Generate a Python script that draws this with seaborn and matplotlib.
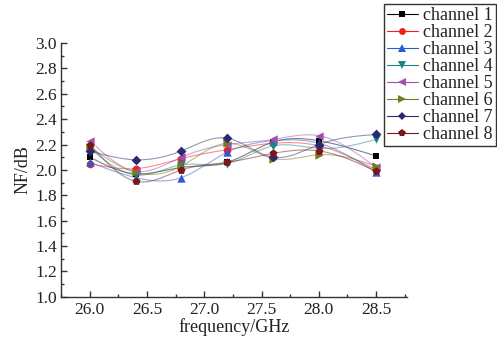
import numpy as np
import pandas as pd
import matplotlib
matplotlib.use("Agg")
import matplotlib.pyplot as plt
import matplotlib.ticker as mtick
from matplotlib.lines import Line2D
import seaborn as sns

# data
freq = [26.0, 26.4, 26.8, 27.2, 27.6, 28.0, 28.5]
ch1 = [2.10, 1.97, 2.02, 2.06, 2.22, 2.23, 2.11]
ch2 = [2.05, 2.01, 2.09, 2.16, 2.21, 2.19, 2.00]
ch3 = [2.06, 1.94, 1.94, 2.14, 2.23, 2.21, 1.98]
ch4 = [2.17, 1.96, 2.04, 2.05, 2.19, 2.17, 2.24]
ch5 = [2.23, 1.99, 2.10, 2.20, 2.24, 2.27, 2.02]
ch6 = [2.18, 1.98, 2.03, 2.21, 2.09, 2.12, 2.03]
ch7 = [2.15, 2.08, 2.15, 2.25, 2.10, 2.20, 2.28]
ch8 = [2.20, 1.91, 2.00, 2.06, 2.13, 2.15, 1.99]
channel_names = ["channel 1", "channel 2", "channel 3", "channel 4",
                 "channel 5", "channel 6", "channel 7", "channel 8"]
l_series = [ch1, ch2, ch3, ch4, ch5, ch6, ch7, ch8]

colors = ["#000000", "#f21d1d", "#2a5ccc", "#1a8585",
          "#a24fb0", "#7a7a1e", "#2b2b72", "#7a1717"]
markers = ["s", "o", "^", "v", "<", ">", "D", "p"]
msizes = [5, 5.5, 6, 6, 6, 6, 5, 6]


def f_natural_spline(x, y, n=200):
    """natural cubic spline through the points, only used for the smooth line"""
    x = np.asarray(x, float)
    y = np.asarray(y, float)
    k = len(x)
    h = np.diff(x)
    A = np.zeros((k, k))
    b = np.zeros(k)
    A[0, 0] = A[-1, -1] = 1
    for i in range(1, k - 1):
        A[i, i - 1] = h[i - 1]
        A[i, i] = 2 * (h[i - 1] + h[i])
        A[i, i + 1] = h[i]
        b[i] = 6 * ((y[i + 1] - y[i]) / h[i] - (y[i] - y[i - 1]) / h[i - 1])
    M = np.linalg.solve(A, b)
    xs = np.linspace(x[0], x[-1], n)
    idx = np.clip(np.searchsorted(x, xs) - 1, 0, k - 2)
    x0, x1 = x[idx], x[idx + 1]
    hh = x1 - x0
    ys = (M[idx] * (x1 - xs) ** 3 / (6 * hh) + M[idx + 1] * (xs - x0) ** 3 / (6 * hh)
          + (y[idx] / hh - M[idx] * hh / 6) * (x1 - xs)
          + (y[idx + 1] / hh - M[idx + 1] * hh / 6) * (xs - x0))
    return xs, ys


sns.set_style("ticks")
plt.rcParams["font.family"] = ["Liberation Serif", "DejaVu Serif"]
plt.rcParams["xtick.direction"] = "in"
plt.rcParams["ytick.direction"] = "in"

fig = plt.figure(figsize=(4.97, 3.44), dpi=100)
ax = fig.add_axes([0.123, 0.137, 0.696, 0.738])

handles = []
for name, vals, col, mk, ms in zip(channel_names, l_series, colors, markers, msizes):
    xs, ys = f_natural_spline(freq, vals)
    df_line = pd.DataFrame({"x": xs, "y": ys})
    sns.lineplot(data=df_line, x="x", y="y", ax=ax, color=col, linewidth=0.8,
                 alpha=0.5, sort=False, estimator=None)
    df_pts = pd.DataFrame({"x": freq, "y": vals})
    sns.scatterplot(data=df_pts, x="x", y="y", ax=ax, color=col, marker=mk,
                    s=(ms * 1.0) ** 2, linewidth=0, zorder=3)
    handles.append(Line2D([], [], color=col, marker=mk, markersize=ms * 0.9,
                          linewidth=0.8, markeredgewidth=0))

ax.set_xlim(25.75, 28.77)
ax.set_ylim(1.0, 3.0)
ax.xaxis.set_major_locator(mtick.MultipleLocator(0.5))
ax.xaxis.set_minor_locator(mtick.MultipleLocator(0.25))
ax.yaxis.set_major_locator(mtick.MultipleLocator(0.2))
ax.yaxis.set_minor_locator(mtick.MultipleLocator(0.1))
ax.xaxis.set_major_formatter(mtick.FormatStrFormatter("%.1f"))
ax.yaxis.set_major_formatter(mtick.FormatStrFormatter("%.1f"))
ax.tick_params(which="major", length=4, width=1, labelsize=12.5, color="#333333",
               labelcolor="#222222")
ax.tick_params(which="minor", length=2.5, width=1, color="#333333")
ax.tick_params(axis="y", pad=3)
ax.tick_params(axis="x", pad=4)
for side in ["top", "right"]:
    ax.spines[side].set_visible(False)
for side in ["left", "bottom"]:
    ax.spines[side].set_linewidth(1)
    ax.spines[side].set_color("#333333")

ax.set_xlabel("frequency/GHz", fontsize=13, labelpad=0, color="#222222")
ax.set_ylabel("NF/dB", fontsize=13, labelpad=3, color="#222222")

lgd = fig.legend(handles, channel_names, loc="upper right",
                 bbox_to_anchor=(0.997, 0.988), fontsize=13, frameon=True,
                 fancybox=False, handlelength=1.7, handletextpad=0.3,
                 labelspacing=0.0, borderpad=0.15, borderaxespad=0)
lgd.get_frame().set_edgecolor("black")
lgd.get_frame().set_linewidth(1)
for t in lgd.get_texts():
    t.set_color("#222222")

fig.savefig("out.png", dpi=100)
